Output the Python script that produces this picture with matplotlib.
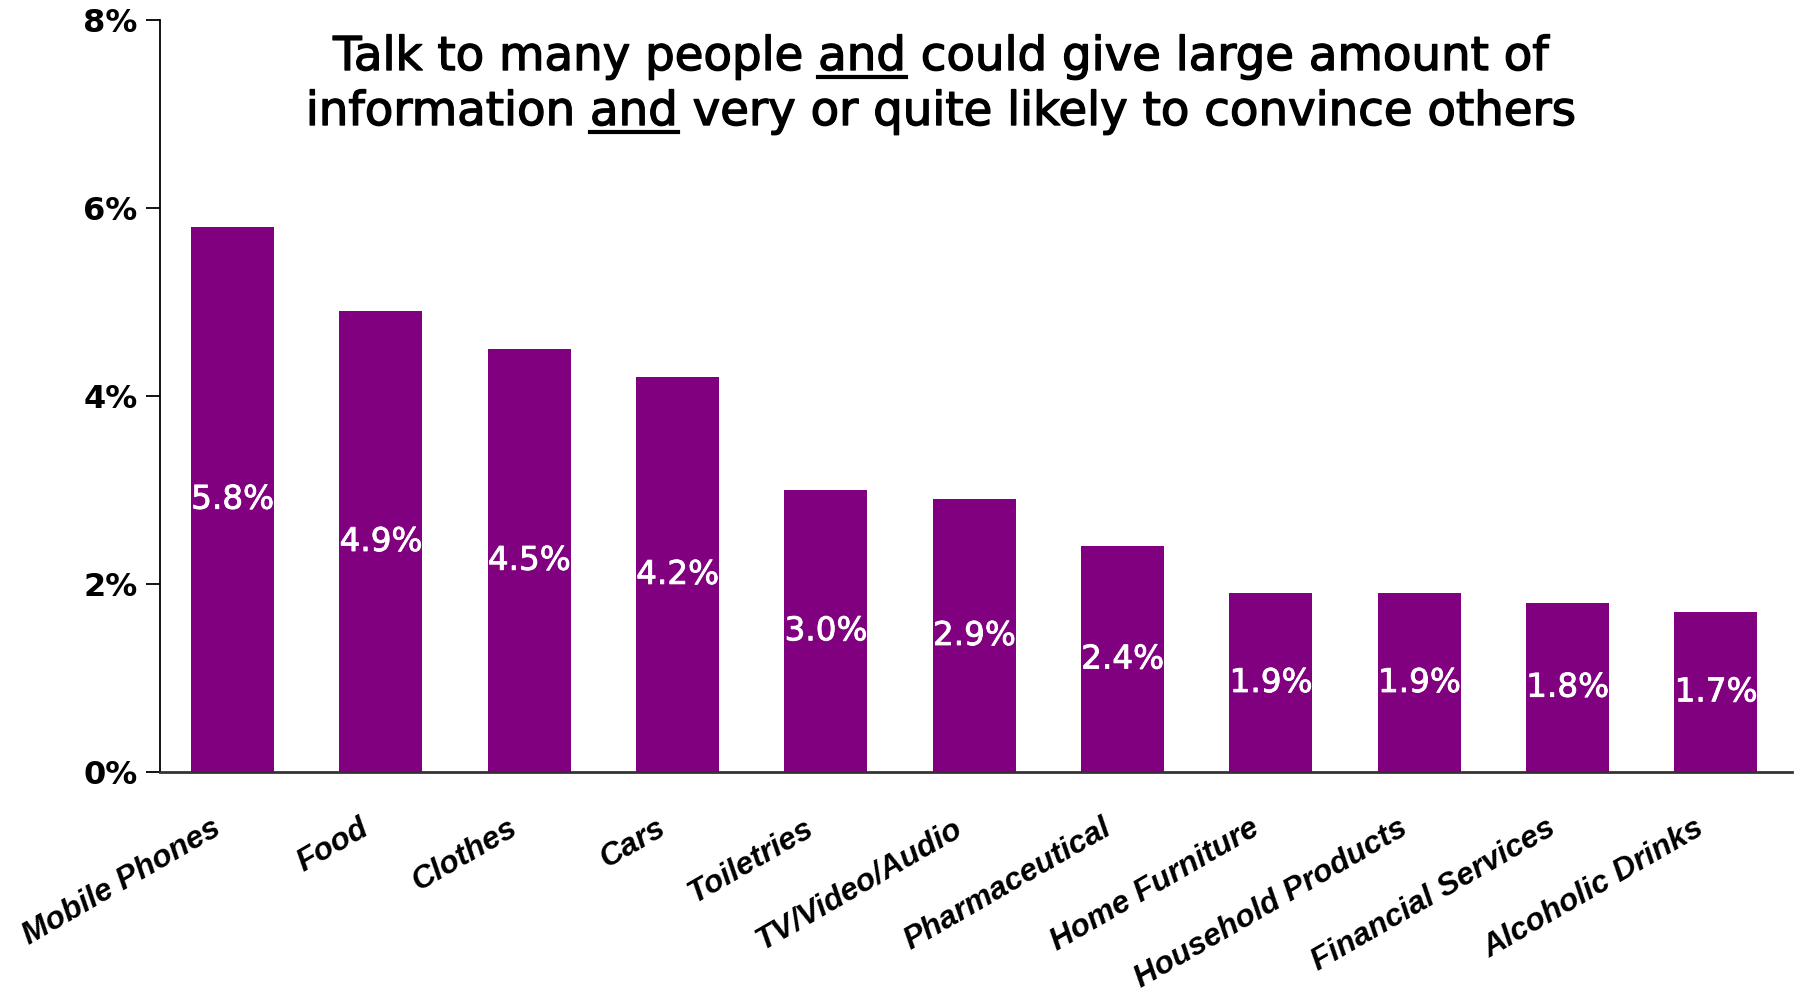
import matplotlib
matplotlib.use("Agg")
import matplotlib.pyplot as plt
import matplotlib.transforms as mtransforms
import matplotlib.patheffects as pe
from matplotlib.lines import Line2D
from matplotlib.ticker import FuncFormatter

categories = ["Mobile Phones", "Food", "Clothes", "Cars", "Toiletries",
              "TV/Video/Audio", "Pharmaceutical", "Home Furniture",
              "Household Products", "Financial Services", "Alcoholic Drinks"]
values = [5.8, 4.9, 4.5, 4.2, 3.0, 2.9, 2.4, 1.9, 1.9, 1.8, 1.7]
yticks = [0, 2, 4, 6, 8]

# (text before the underlined word, underlined word, rest)
title_lines = [("Talk to many people ", "and", " could give large amount of"),
               ("information ", "and", " very or quite likely to convince others")]

plt.rcParams["font.family"] = "DejaVu Sans"

fig = plt.figure(figsize=(17.97, 9.92), dpi=100)
ax = fig.add_axes([0.089, 0.222, 0.908, 0.758])

x = range(len(categories))
ax.bar(x, values, width=0.56, color="#800080")

# value labels in the middle of each bar
for i, v in enumerate(values):
	ax.text(i, v / 2, "%.1f%%" % v, ha="center", va="center",
	        color="white", fontsize=23.5,
	        path_effects=[pe.withStroke(linewidth=0.6, foreground="white")])

ax.set_xlim(-0.49, 10.51)
ax.set_ylim(0, 8)
ax.set_yticks(yticks)
ax.yaxis.set_major_formatter(FuncFormatter(lambda v, p: "%d%%" % v))
ax.tick_params(axis="y", length=10, width=1.3, pad=6, labelsize=23)
for t in ax.get_yticklabels():
	t.set_fontweight("bold")

ax.set_xticks(list(x))
ax.set_xticklabels(categories, rotation=30, ha="right", va="center",
                   rotation_mode="anchor", fontsize=22.8, fontweight="bold",
                   style="italic", family="Liberation Sans")
ax.tick_params(axis="x", length=0, pad=39)
shift = mtransforms.ScaledTranslation(-14 / 100, 0, fig.dpi_scale_trans)
for t in ax.get_xticklabels():
	t.set_transform(t.get_transform() + shift)

for s in ["top", "right"]:
	ax.spines[s].set_visible(False)
ax.spines["left"].set_linewidth(1.3)
ax.spines["bottom"].set_linewidth(2)
ax.spines["bottom"].set_color("#333333")

# title with underlined "and"
renderer = fig.canvas.get_renderer()
title_size = 33.6
baselines = [70, 125]
thick = [pe.withStroke(linewidth=1.0, foreground="black")]

def text_width(s):
	t = fig.text(0, 0, s, fontsize=title_size)
	w = t.get_window_extent(renderer).width
	t.remove()
	return w

W, H = fig.bbox.width, fig.bbox.height
for (pre, und, post), by in zip(title_lines, baselines):
	full = pre + und + post
	t = fig.text(0.524, 1 - by / 992, full, ha="center", va="baseline",
	             fontsize=title_size, path_effects=thick)
	bb = t.get_window_extent(renderer)
	x0 = bb.x0 + text_width(pre + und) - text_width(und)
	x1 = bb.x0 + text_width(pre + und)
	yl = (H - by - 7) / H
	fig.add_artist(Line2D([x0 / W, x1 / W], [yl, yl], transform=fig.transFigure,
	                      color="black", linewidth=3))

fig.savefig("out.png", dpi=100)
